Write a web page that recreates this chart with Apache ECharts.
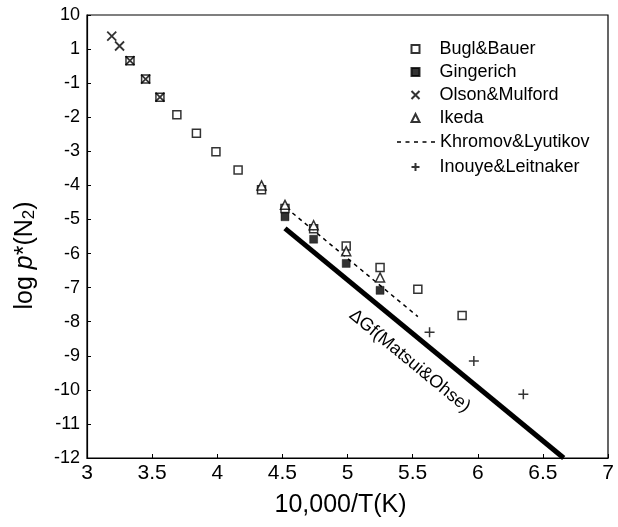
<!DOCTYPE html>
<html><head><meta charset="utf-8">
<script src="https://cdn.jsdelivr.net/npm/echarts@6/dist/echarts.min.js"></script>
<style>html,body{margin:0;padding:0;background:#fff}#c{width:618px;height:527px}</style>
</head><body><div id="c"></div>
<script>
// ---- data (x = 10,000/T(K), y = log p*(N2)) ----
const buglBauer = [[3.33,-0.34],[3.45,-0.88],[3.56,-1.41],[3.69,-1.93],[3.84,-2.47],[3.99,-3.01],[4.16,-3.55],[4.34,-4.13],[4.52,-4.68],[4.74,-5.27],[4.99,-5.78],[5.25,-6.41],[5.54,-7.05],[5.88,-7.82]];
const gingerich = [[4.52,-4.92],[4.74,-5.58],[4.99,-6.29],[5.25,-7.08]];
const olsonMulford = [[3.19,0.38],[3.25,0.09],[3.33,-0.34],[3.45,-0.88],[3.56,-1.41]];
const ikeda = [[4.34,-4.00],[4.52,-4.57],[4.74,-5.17],[4.99,-5.93],[5.25,-6.70]];
const khromovLyutikov = [[4.53,-4.66],[5.54,-7.85]];
const inouyeLeitnaker = [[5.63,-8.31],[5.97,-9.15],[6.35,-10.13]];
const matsuiOhse = [[4.52,-5.26],[6.66,-12.0]];
const matsuiLabel = 'ΔGf(Matsui&Ohse)';
const seriesNames = ['Bugl&Bauer','Gingerich','Olson&Mulford','Ikeda','Khromov&Lyutikov','Inouye&Leitnaker'];
const yTickValues = [1,0,-1,-2,-3,-4,-5,-6,-7,-8,-9,-10,-11,-12];
const yTickLabels = ['10','1','-1','-2','-3','-4','-5','-6','-7','-8','-9','-10','-11','-12'];
const xTickLabels = ['3','3.5','4','4.5','5','5.5','6','6.5','7'];
const xMin = 3, xMax = 7, xStep = 0.5, yMin = -12, yMax = 1;

const FONT = '"Liberation Sans", Arial, Helvetica, sans-serif';
const chart = echarts.init(document.getElementById('c'));
const crossPath = 'path://M0,0L10,10M10,0L0,10';
const plusPath = 'path://M5,0L5,10M0,5L10,5';
const dashPath = 'path://M0,0h4v1.5h-4zM8.5,0h4v1.5h-4zM17,0h4v1.5h-4zM25.5,0h4v1.5h-4zM34,0h4v1.5h-4z';

const legendText = { fontFamily: FONT, fontSize: 18, color: '#000', lineHeight: 23 };
const ROW = 23;

chart.setOption({
  backgroundColor: '#fff',
  animation: false,
  textStyle: { fontFamily: FONT, color: '#000' },
  grid: { left: 87, right: 10, top: 15, bottom: 69, show: true, borderColor: '#000', borderWidth: 1.2, backgroundColor: 'transparent' },
  legend: [
    { data: seriesNames.slice(0, 4), orient: 'vertical', left: 409, top: 37.5, padding: 0,
      itemWidth: 8, itemHeight: 8, itemGap: 0, selectedMode: false,
      textStyle: Object.assign({ padding: [0, 0, 0, 15] }, legendText) },
    { data: [{ name: seriesNames[4], icon: dashPath }], orient: 'vertical', left: 397, top: 37.5 + 4 * ROW + 1, padding: 0,
      itemWidth: 38, itemHeight: 1.5, itemGap: 0, selectedMode: false,
      itemStyle: { color: '#000' }, lineStyle: { width: 0 },
      textStyle: legendText },
    { data: [seriesNames[5]], orient: 'vertical', left: 409, top: 37.5 + 5 * ROW + 3, padding: 0,
      itemWidth: 8, itemHeight: 8, itemGap: 0, selectedMode: false,
      textStyle: Object.assign({ padding: [0, 0, 0, 15] }, legendText) }
  ],
  xAxis: {
    type: 'value', min: xMin, max: xMax, interval: xStep,
    name: '10,000/T(K)', nameLocation: 'middle', nameGap: 35,
    nameTextStyle: { fontFamily: FONT, fontSize: 25, color: '#000', padding: [0, 14, 0, 0] },
    axisLine: { onZero: false, lineStyle: { color: '#000', width: 1.2 } },
    axisTick: { inside: true, length: 4, lineStyle: { color: '#000' } },
    axisLabel: { fontFamily: FONT, fontSize: 21, color: '#000', margin: 5,
      formatter: v => xTickLabels[Math.round((v - xMin) / xStep)] },
    splitLine: { show: false }
  },
  yAxis: {
    type: 'value', min: yMin, max: yMax, interval: 1,
    name: 'log {i|p}*(N{s|2})', nameLocation: 'middle', nameGap: 49, nameRotate: 90,
    nameTextStyle: { fontFamily: FONT, fontSize: 25, color: '#000', padding: [0, 38, 0, 0],
      rich: { i: { fontFamily: FONT, fontSize: 25, fontStyle: 'italic', color: '#000' },
              s: { fontFamily: FONT, fontSize: 17, color: '#000', padding: [9, 0, 0, 0] } } },
    axisLine: { onZero: false, lineStyle: { color: '#000', width: 1.2 } },
    axisTick: { inside: true, length: 4, lineStyle: { color: '#000' } },
    axisLabel: { fontFamily: FONT, fontSize: 18, color: '#000', margin: 7,
      formatter: v => yTickLabels[yTickValues.indexOf(Math.round(v))] },
    splitLine: { show: false }
  },
  series: [
    { name: seriesNames[0], type: 'scatter', data: buglBauer, symbol: 'rect', symbolSize: 8,
      itemStyle: { color: '#fff', borderColor: '#000', borderWidth: 1.5 }, z: 3 },
    { name: seriesNames[1], type: 'scatter', data: gingerich, symbol: 'rect', symbolSize: 8,
      itemStyle: { color: '#000', borderColor: '#000', borderWidth: 0.5 }, z: 3 },
    { name: seriesNames[2], type: 'scatter', data: olsonMulford, symbol: crossPath, symbolSize: 9,
      itemStyle: { color: 'none', borderColor: '#000', borderWidth: 1.8 }, z: 4 },
    { name: seriesNames[3], type: 'scatter', data: ikeda, symbol: 'triangle', symbolSize: 9,
      itemStyle: { color: '#fff', borderColor: '#000', borderWidth: 1.5 }, z: 4 },
    { name: seriesNames[4], type: 'line', data: khromovLyutikov, symbol: 'none',
      lineStyle: { color: '#000', width: 1.5, type: [4, 4] }, itemStyle: { color: '#000' }, z: 2 },
    { name: seriesNames[5], type: 'scatter', data: inouyeLeitnaker, symbol: plusPath, symbolSize: 10,
      itemStyle: { color: 'none', borderColor: '#000', borderWidth: 1.5 }, z: 4 },
    { name: 'Matsui', type: 'line', data: [], z: 1,
      markLine: {
        silent: true, symbol: ['none', 'none'], animation: false,
        lineStyle: { color: '#000', width: 5, type: 'solid' },
        label: { show: true, formatter: matsuiLabel, position: 'insideMiddleBottom', distance: 14,
          fontFamily: FONT, fontSize: 18, color: '#000' },
        data: [[{ coord: matsuiOhse[0] }, { coord: matsuiOhse[1] }]]
      } }
  ]
});
</script></body></html>
